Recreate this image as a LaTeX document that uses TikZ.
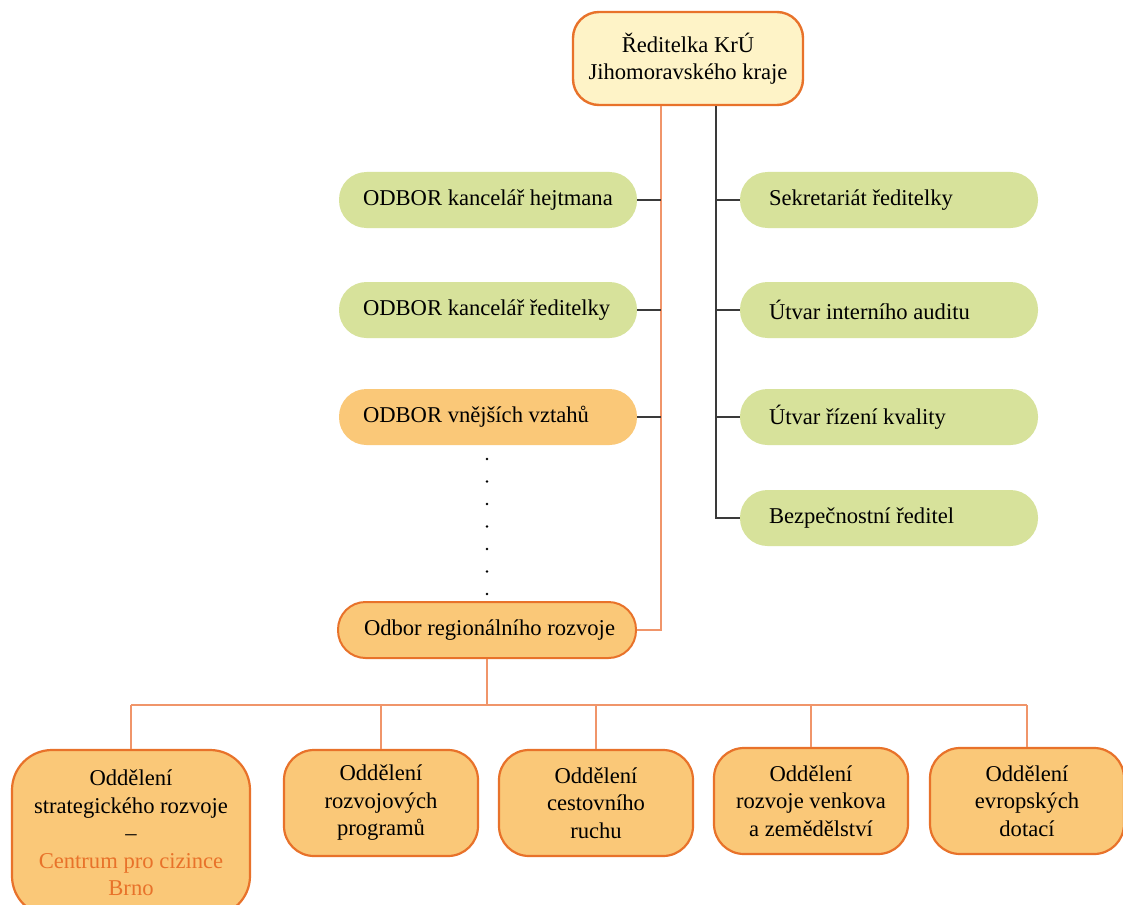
\documentclass[tikz,border=0pt]{standalone}
\usepackage{fontspec}
\setmainfont{Liberation Serif}
\definecolor{gfill}{HTML}{D7E29B}
\definecolor{ofill}{HTML}{FAC878}
\definecolor{tfill}{HTML}{FEF3C7}
\definecolor{oborder}{HTML}{E8722A}
\definecolor{oline}{HTML}{F0956A}
\definecolor{kline}{HTML}{3A3A3A}
\newcommand{\ltxt}[1]{\makebox[250pt][l]{#1}}
\newcommand{\rtxt}[1]{\makebox[240pt][l]{#1}}
\begin{document}
\begin{tikzpicture}[x=1pt,y=-1pt,
  txt/.style={font=\fontsize{22.6}{27.5}\selectfont, text=black},
  pill/.style={txt, rectangle, rounded corners=27.5, minimum height=56, inner ysep=0},
  lbox/.style={pill, inner xsep=24},
  rbox/.style={pill, inner xsep=29},
  dept/.style={txt, rectangle, draw=oborder, line width=2.2pt, fill=ofill, rounded corners=30, minimum width=194, minimum height=106, align=center, inner sep=0},
  orl/.style={draw=oline, line width=1.6pt},
  bkl/.style={draw=kline, line width=1.6pt},
  dotm/.style={fill=black, circle, inner sep=0, minimum size=2.6}
]
\clip (0,0) rectangle (1123,904);
\fill[white] (0,0) rectangle (1123,904);

% top
\node[txt, rectangle, draw=oborder, line width=2.4pt, fill=tfill, rounded corners=26, minimum width=230, minimum height=93, align=center, inner sep=0] (top) at (688,58.5) {Ředitelka KrÚ\\Jihomoravského kraje};

% left
\node[lbox, fill=gfill] (l1) at (488,200) {\ltxt{ODBOR kancelář hejtmana}};
\node[lbox, fill=gfill] (l2) at (488,310) {\ltxt{ODBOR kancelář ředitelky}};
\node[lbox, fill=ofill] (l3) at (488,417) {\ltxt{ODBOR vnějších vztahů}};
\node[lbox, fill=ofill, draw=oborder, line width=2pt] (reg) at (487,630) {\ltxt{\hspace{2pt}Odbor regionálního rozvoje}};

% right
\node[rbox, fill=gfill] (r1) at (889,200) {\rtxt{Sekretariát ředitelky}};
\node[rbox, fill=gfill] (r2) at (889,310) {\rtxt{Útvar interního auditu}};
\node[rbox, fill=gfill] (r3) at (889,417) {\rtxt{Útvar řízení kvality}};
\node[rbox, fill=gfill] (r4) at (889,518) {\rtxt{Bezpečnostní ředitel}};

% dots
\foreach \i in {0,...,6} { \node[dotm] (d\i) at (487,459+22.5*\i) {}; }

% spines
\coordinate (spL) at (661,0);
\coordinate (spR) at (716,0);
\coordinate (bus) at (0,705);

\draw[orl] (top.south -| spL) |- (reg.east);
\draw[bkl] (top.south -| spR) |- (r4.west);
\foreach \n in {l1,l2,l3} { \draw[bkl] (\n.east) -- (\n.east -| spL); }
\foreach \n in {r1,r2,r3} { \draw[bkl] (\n.west) -- (\n.west -| spR); }

% departments
\node[dept, minimum width=238, minimum height=166, rounded corners=40] (b1) at (131,833) {Oddělení\\strategického rozvoje\\–\\\textcolor{oborder}{Centrum pro cizince}\\\textcolor{oborder}{Brno}};
\node[dept] (b2) at (381,803) {Oddělení\\rozvojových\\programů};
\node[dept] (b3) at (596,803) {Oddělení\\cestovního\\ruchu};
\node[dept] (b4) at (811,801) {Oddělení\\rozvoje venkova\\a zemědělství};
\node[dept] (b5) at (1027,801) {Oddělení\\evropských\\dotací};

\draw[orl] (reg.south) -- (reg.south |- bus);
\draw[orl] (b1.north |- bus) -- (b5.north |- bus);
\foreach \n in {b1,b2,b3,b4,b5} { \draw[orl] (\n.north) -- (\n.north |- bus); }
\end{tikzpicture}
\end{document}
